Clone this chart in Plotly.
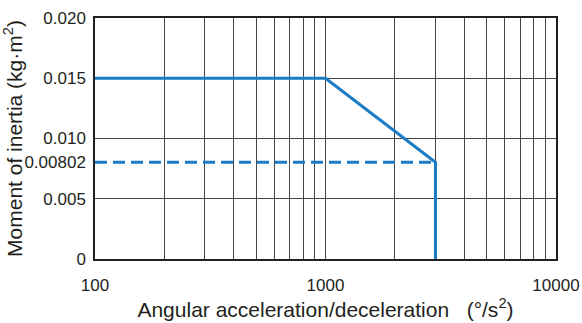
import plotly.graph_objects as go

# Permissible load curve: moment of inertia vs angular acceleration
accel_limit = [100, 1000, 3000, 3000]
inertia_limit = [0.015, 0.015, 0.00802, 0]

# Reference level at the rated inertia
accel_rated = [100, 3000]
inertia_rated = [0.00802, 0.00802]

y_ticks = [0, 0.005, 0.00802, 0.010, 0.015, 0.020]
y_tick_text = ["0", "0.005", "0.00802", "0.010", "0.015", "0.020"]
y_grid = [0.005, 0.010, 0.015]
x_ticks = [100, 1000, 10000]
x_tick_text = ["100", "1000", "10000"]
x_grid = [200, 300, 400, 500, 600, 700, 800, 900,
          2000, 3000, 4000, 5000, 6000, 7000, 8000, 9000]

blue = "#1b7bc4"
grid = "#444444"
ink = "#231f20"
font = "Liberation Sans, Arial, sans-serif"

fig = go.Figure()
fig.add_trace(go.Scatter(x=accel_rated, y=inertia_rated, mode="lines",
                         line=dict(color=blue, width=3, dash="12px,6px"),
                         hoverinfo="skip"))
fig.add_trace(go.Scatter(x=accel_limit, y=inertia_limit, mode="lines",
                         line=dict(color=blue, width=3),
                         hoverinfo="skip"))

fig.update_layout(
    width=582, height=323, autosize=False,
    margin=dict(l=95, r=26, t=18, b=64, autoexpand=False),
    paper_bgcolor="white", plot_bgcolor="white",
    showlegend=False,
    font=dict(family=font, color=ink, size=17),
    xaxis=dict(
        type="log", range=[2, 4], automargin=False,
        tickvals=x_ticks, ticktext=x_tick_text,
        showgrid=True, gridcolor=grid, gridwidth=1,
        minor=dict(tickvals=x_grid, showgrid=True, gridcolor=grid, gridwidth=1, ticklen=0),
        showline=True, linecolor=ink, linewidth=1.5, mirror=True,
        ticks="", zeroline=False,
        tickfont=dict(size=17),
        ticklabelstandoff=10,
        title=dict(text="Angular acceleration/deceleration&nbsp;&nbsp; (°/s<sup>2</sup>)",
                   font=dict(size=21), standoff=2),
    ),
    yaxis=dict(
        range=[0, 0.020], automargin=False,
        tickvals=y_ticks, ticktext=y_tick_text,
        showgrid=False,
        minor=dict(tickvals=y_grid, showgrid=True, gridcolor=grid, gridwidth=1, ticklen=0),
        showline=True, linecolor=ink, linewidth=1.5, mirror=True,
        ticks="", zeroline=False,
        tickfont=dict(size=17),
        ticklabelstandoff=4,
        title=dict(text="Moment of inertia (kg·m<sup>2</sup>)",
                   font=dict(size=21), standoff=0),
    ),
)

fig.write_html("out.html")
